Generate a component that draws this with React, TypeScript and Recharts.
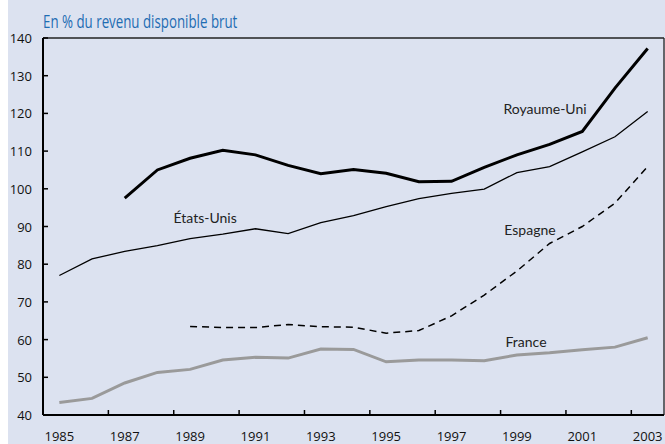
import { LineChart, Line, XAxis, YAxis, ReferenceLine, ReferenceDot } from 'recharts'

const years = [1985, 1986, 1987, 1988, 1989, 1990, 1991, 1992, 1993, 1994, 1995, 1996, 1997, 1998, 1999, 2000, 2001, 2002, 2003]
const royaumeUni = [null, null, 97.5, 105, 108.1, 110.2, 109, 106.2, 104, 105.1, 104.1, 101.9, 102, 105.7, 109, 111.8, 115.2, 126.7, 137.2]
const etatsUnis = [77, 81.4, 83.4, 84.9, 86.8, 88, 89.4, 88.1, 91, 92.9, 95.3, 97.4, 98.8, 99.9, 104.3, 105.9, 109.8, 113.8, 120.5]
const espagne = [null, null, null, null, 63.5, 63.2, 63.2, 64, 63.4, 63.3, 61.7, 62.4, 66.3, 71.8, 78.2, 85.5, 90, 96.2, 105.9]
const france = [43.3, 44.4, 48.5, 51.3, 52.1, 54.6, 55.3, 55.1, 57.5, 57.4, 54.1, 54.6, 54.6, 54.4, 55.9, 56.5, 57.3, 58, 60.5]

const xTicks = [1985, 1987, 1989, 1991, 1993, 1995, 1997, 1999, 2001, 2003]
const yTicks = [40, 50, 60, 70, 80, 90, 100, 110, 120, 130, 140]

const data = years.map((year, i) => ({
  year,
  ru: royaumeUni[i],
  us: etatsUnis[i],
  es: espagne[i],
  fr: france[i],
}))

const W = 657
const H = 444
const Y_W = 35
const PLOT_W = W - Y_W - 1
const HALF = PLOT_W / years.length / 2
const tickFont = "'Open Sans', 'DejaVu Sans', sans-serif"
const labelFont = "Lato, 'Noto Sans', sans-serif"

// eslint-disable-next-line @typescript-eslint/no-explicit-any
function XTick({ x, y, payload }: any) {
  return (
    <g>
      <line x1={x - HALF} y1={y} x2={x - HALF} y2={y - 5} stroke="#000" strokeWidth={1.5} />
      <text x={x} y={y + 26} textAnchor="middle" fontSize={13} fontFamily={tickFont} fill="#111">
        {payload.value}
      </text>
    </g>
  )
}

// eslint-disable-next-line @typescript-eslint/no-explicit-any
function YTick({ x, y, payload }: any) {
  return (
    <g>
      <line x1={x} y1={y} x2={x + 5} y2={y} stroke="#000" strokeWidth={1.5} />
      <text x={x - 11} y={y} textAnchor="end" dominantBaseline="central" fontSize={13} fontFamily={tickFont} fill="#111">
        {payload.value}
      </text>
    </g>
  )
}

// eslint-disable-next-line @typescript-eslint/no-explicit-any
const seriesLabel = (text: string) => ({ viewBox }: any) => (
  <text
    x={viewBox.x + viewBox.width / 2}
    y={viewBox.y + viewBox.height / 2}
    textAnchor="middle"
    dominantBaseline="central"
    fontSize={14}
    fontFamily={labelFont}
    fill="#222"
  >
    {text}
  </text>
)

export default function App() {
  return (
    <div style={{ position: 'absolute', left: 8, top: 0, width: W, height: H, background: '#dce2f0' }}>
      <div
        style={{
          position: 'absolute',
          left: Y_W,
          top: 12,
          fontSize: 19,
          lineHeight: '19px',
          fontFamily: "'Open Sans', sans-serif",
          color: '#1f6db3',
          whiteSpace: 'nowrap',
          transform: 'scaleX(0.7)',
          transformOrigin: 'left top',
        }}
      >
        En % du revenu disponible brut
      </div>
      <LineChart width={W} height={H} data={data} margin={{ top: 38, right: 1, bottom: 0, left: 0 }}>
        <XAxis
          dataKey="year"
          type="number"
          domain={[1984.5, 2003.5]}
          ticks={xTicks}
          interval={0}
          height={29}
          tickSize={0}
          tickMargin={0}
          tickLine={false}
          axisLine={{ stroke: '#000', strokeWidth: 2 }}
          tick={<XTick />}
        />
        <YAxis
          type="number"
          domain={[40, 140]}
          ticks={yTicks}
          interval={0}
          width={Y_W}
          tickSize={0}
          tickMargin={0}
          tickLine={false}
          axisLine={{ stroke: '#000', strokeWidth: 2 }}
          tick={<YTick />}
        />
        <ReferenceLine y={140} stroke="#222" strokeWidth={1.3} />
        <ReferenceLine x={2003.5} stroke="#222" strokeWidth={1.3} />
        <Line dataKey="fr" stroke="#9a9a9a" strokeWidth={3} dot={false} isAnimationActive={false} />
        <Line dataKey="es" stroke="#000" strokeWidth={1.5} strokeDasharray="7 5" dot={false} isAnimationActive={false} />
        <Line dataKey="us" stroke="#000" strokeWidth={1.3} dot={false} isAnimationActive={false} />
        <Line dataKey="ru" stroke="#000" strokeWidth={3} dot={false} isAnimationActive={false} />
        <ReferenceDot x={1999.86} y={121.2} r={0} fill="none" stroke="none" label={seriesLabel('Royaume-Uni')} />
        <ReferenceDot x={1989.46} y={92.5} r={0} fill="none" stroke="none" label={seriesLabel('États-Unis')} />
        <ReferenceDot x={1999.4} y={89.1} r={0} fill="none" stroke="none" label={seriesLabel('Espagne')} />
        <ReferenceDot x={1999.28} y={59.4} r={0} fill="none" stroke="none" label={seriesLabel('France')} />
      </LineChart>
    </div>
  )
}
